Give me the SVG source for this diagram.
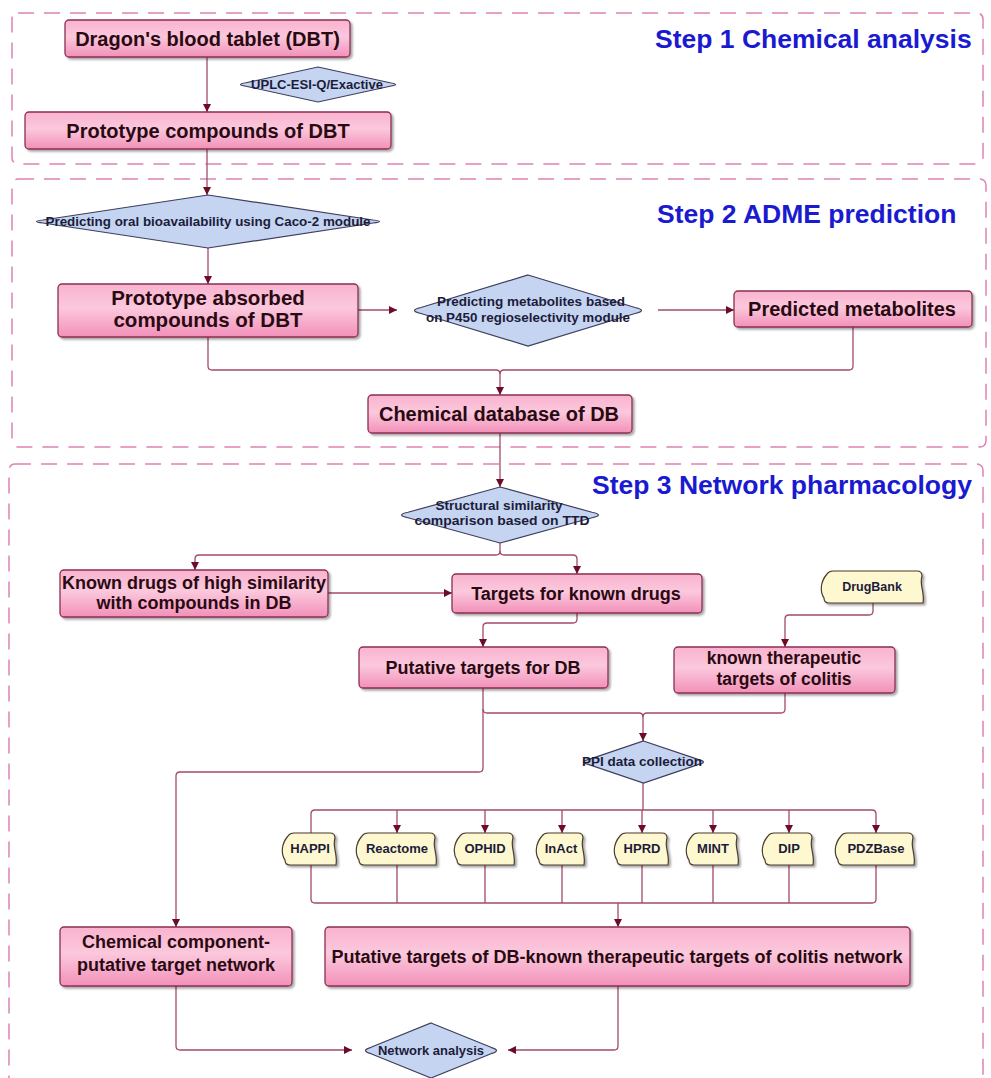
<svg xmlns="http://www.w3.org/2000/svg" width="991" height="1078" viewBox="0 0 991 1078">
<style>
.frame{fill:none;stroke:#de82b5;stroke-width:1.5;stroke-dasharray:16 10}
.box{fill:url(#pg);stroke:#8a2f52;stroke-width:1.3;filter:url(#sh)}
.dia{fill:#c4d4f1;stroke:#3d3d5c;stroke-width:1.2}
.tape{fill:#fdf8cf;stroke:#4a3b2e;stroke-width:1.2;filter:url(#sh)}
.t{font-family:"Liberation Sans",Arial,sans-serif;font-weight:bold;fill:#2a0a12;text-anchor:middle}
.s{font-family:"Liberation Sans",Arial,sans-serif;font-weight:bold;fill:#1c1c3a;text-anchor:middle}
.step{font-family:"Liberation Sans",Arial,sans-serif;font-weight:bold;font-size:26.5px;fill:#1a1ad0}
.c{fill:none;stroke:#a24a6c;stroke-width:1.3}
.a{marker-end:url(#arr)}
</style>
<defs>
<linearGradient id="pg" x1="0" y1="0" x2="0" y2="1">
<stop offset="0" stop-color="#f9b3cf"/>
<stop offset="0.45" stop-color="#fbc8dc"/>
<stop offset="1" stop-color="#f290b9"/>
</linearGradient>
<filter id="sh" x="-10%" y="-10%" width="120%" height="130%">
<feDropShadow dx="2" dy="2" stdDeviation="1.2" flood-color="#000" flood-opacity="0.35"/>
</filter>
<marker id="arr" viewBox="0 0 10 10" refX="10" refY="5" markerWidth="8" markerHeight="9" markerUnits="userSpaceOnUse" orient="auto">
<path d="M0,0 L10,5 L0,10 z" fill="#6e0b28"/>
</marker>
</defs>

<rect width="991" height="1078" fill="#fff"/>

<g id="frames">
<rect class="frame" x="12" y="13" width="971" height="151" rx="6"/>
<rect class="frame" x="12" y="179" width="974" height="268" rx="6"/>
<rect class="frame" x="9" y="464" width="974" height="660" rx="6"/>
<text class="step" x="655" y="48">Step 1 Chemical analysis</text>
<text class="step" x="657" y="223">Step 2 ADME prediction</text>
<text class="step" x="592" y="494">Step 3 Network pharmacology</text>
</g>

<g id="connectors">
<path class="c a" d="M207,57 V112"/>
<path class="c a" d="M207,149 V195"/>
<path class="c a" d="M208,248 V284"/>
<path class="c a" d="M358,310 H397"/>
<path class="c a" d="M658,310 H734"/>
<path class="c a" d="M208,337 V366 Q208,370 212,370 H496 Q500,370 500,374 V395"/>
<path class="c" d="M853,327 V366 Q853,370 849,370 H504 Q500,370 500,374"/>
<path class="c a" d="M500,433 V487"/>
<path class="c a" d="M500,543 V551 Q500,555 496,555 H199 Q195,555 195,559 V570"/>
<path class="c a" d="M500,551 Q500,555 504,555 H573 Q577,555 577,559 V574"/>
<path class="c a" d="M328,593 H452"/>
<path class="c a" d="M577,613 V619 Q577,623 573,623 H487 Q483,623 483,627 V647"/>
<path class="c a" d="M873,603 V611 Q873,615 869,615 H789 Q785,615 785,619 V647"/>
<path class="c a" d="M483,688 V709 Q483,713 487,713 H639 Q643,713 643,717 V741"/>
<path class="c" d="M785,693 V709 Q785,713 781,713 H647 Q643,713 643,717"/>
<path class="c a" d="M483,709 V768 Q483,772 479,772 H180 Q176,772 176,776 V927"/>
<path class="c" d="M643,783 V810"/>
<path class="c a" d="M311,833 V814 Q311,810 315,810 H872 Q876,810 876,814 V833"/>
<path class="c a" d="M397,810 V833"/>
<path class="c a" d="M485,810 V833"/>
<path class="c a" d="M562,810 V833"/>
<path class="c a" d="M642,810 V833"/>
<path class="c a" d="M713,810 V833"/>
<path class="c a" d="M789,810 V833"/>
<path class="c" d="M311,865 V899 Q311,903 315,903 H872 Q876,903 876,899 V865 M397,865 V903 M485,865 V903 M562,865 V903 M642,865 V903 M713,865 V903 M789,865 V903"/>
<path class="c a" d="M618,903 V927"/>
<path class="c a" d="M176,986 V1046 Q176,1050 180,1050 H352"/>
<path class="c a" d="M618,986 V1046 Q618,1050 614,1050 H508"/>
</g>

<g id="n-dbt">
<rect class="box" x="65" y="20" width="285" height="37" rx="4"/>
<text class="t" x="207.5" y="46" font-size="20">Dragon's blood tablet (DBT)</text>
</g>
<g id="n-uplc">
<path class="dia" d="M318,67 L390,82.75 Q401,84.5 390,86.25 L318,102 L246,86.25 Q235,84.5 246,82.75 Z"/>
<text class="s" x="317" y="89" font-size="12.5" textLength="132" lengthAdjust="spacingAndGlyphs">UPLC-ESI-Q/Exactive</text>
</g>
<g id="n-proto">
<rect class="box" x="25" y="112" width="366" height="37" rx="4"/>
<text class="t" x="208" y="137.5" font-size="20">Prototype compounds of DBT</text>
</g>
<g id="n-caco">
<path class="dia" d="M208,195 L373,220 Q386,221.5 373,223 L208,248 L43,223 Q30,221.5 43,220 Z"/>
<text class="s" x="208" y="226" font-size="13" textLength="325" lengthAdjust="spacingAndGlyphs">Predicting oral bioavailability using Caco-2 module</text>
</g>
<g id="n-absorbed">
<rect class="box" x="58" y="284" width="300" height="53" rx="4"/>
<text class="t" x="208" y="305" font-size="20.5">Prototype absorbed</text>
<text class="t" x="208" y="327" font-size="20.5">compounds of DBT</text>
</g>
<g id="n-p450">
<path class="dia" d="M528,275 L635,307.5 Q648,310.5 635,313.5 L528,346 L421,313.5 Q408,310.5 421,307.5 Z"/>
<text class="s" x="531" y="306" font-size="12.5" textLength="188" lengthAdjust="spacingAndGlyphs">Predicting metabolites based</text>
<text class="s" x="528" y="322" font-size="12.5" textLength="204" lengthAdjust="spacingAndGlyphs">on P450 regioselectivity module</text>
</g>
<g id="n-predicted">
<rect class="box" x="734" y="291" width="238" height="36" rx="4"/>
<text class="t" x="852" y="316" font-size="20">Predicted metabolites</text>
</g>
<g id="n-chemdb">
<rect class="box" x="368" y="395" width="264" height="38" rx="4"/>
<text class="t" x="499" y="421" font-size="20">Chemical database of DB</text>
</g>
<g id="n-struct">
<path class="dia" d="M500,487 L592,512.25 Q605,515 592,517.75 L500,543 L408,517.75 Q395,515 408,512.25 Z"/>
<text class="s" x="499" y="510" font-size="12.5" textLength="127" lengthAdjust="spacingAndGlyphs">Structural similarity</text>
<text class="s" x="502" y="525" font-size="12.5" textLength="175" lengthAdjust="spacingAndGlyphs">comparison based on TTD</text>
</g>
<g id="n-known">
<rect class="box" x="60" y="570" width="268" height="47" rx="4"/>
<text class="t" x="194" y="589" font-size="18">Known drugs of high similarity</text>
<text class="t" x="194" y="609" font-size="18">with compounds in DB</text>
</g>
<g id="n-targets">
<rect class="box" x="452" y="574" width="250" height="39" rx="4"/>
<text class="t" x="576" y="600" font-size="18">Targets for known drugs</text>
</g>
<g id="n-drugbank">
<path class="tape" d="M827,574 Q829,571 833,571 L917,571 Q922,571 922,576 C919,585 925,592 923,603 L829,603 Q824,603 824,598 C820,592 820,582 827,574 Z"/>
<text class="s" x="872" y="591" font-size="12.5" fill="#222">DrugBank</text>
</g>
<g id="n-putative">
<rect class="box" x="359" y="647" width="249" height="41" rx="4"/>
<text class="t" x="483" y="674" font-size="18">Putative targets for DB</text>
</g>
<g id="n-colitis">
<rect class="box" x="674" y="647" width="221" height="46" rx="4"/>
<text class="t" x="784" y="664" font-size="17.5">known therapeutic</text>
<text class="t" x="784" y="685" font-size="17.5">targets of colitis</text>
</g>
<g id="n-ppi">
<path class="dia" d="M643.5,741 L698,759.3 Q709,762 698,764.7 L643.5,783 L589,764.7 Q578,762 589,759.3 Z"/>
<text class="s" x="642" y="766" font-size="12.5" textLength="120" lengthAdjust="spacingAndGlyphs">PPI data collection</text>
</g>
<g id="n-happi">
<path class="tape" d="M288,836 Q290,833 294,833 L330,833 Q335,833 335,838 C332,847 338,854 336,865 L290,865 Q285,865 285,860 C281,854 281,844 288,836 Z"/>
<text class="s" x="310" y="853" font-size="13" fill="#222">HAPPI</text>
</g>
<g id="n-reactome">
<path class="tape" d="M362,836 Q364,833 368,833 L430,833 Q435,833 435,838 C432,847 438,854 436,865 L364,865 Q359,865 359,860 C355,854 355,844 362,836 Z"/>
<text class="s" x="397" y="853" font-size="13" fill="#222">Reactome</text>
</g>
<g id="n-ophid">
<path class="tape" d="M460,836 Q462,833 466,833 L508,833 Q513,833 513,838 C510,847 516,854 514,865 L462,865 Q457,865 457,860 C453,854 453,844 460,836 Z"/>
<text class="s" x="485" y="853" font-size="13" fill="#222">OPHID</text>
</g>
<g id="n-inact">
<path class="tape" d="M542,836 Q544,833 548,833 L578,833 Q583,833 583,838 C580,847 586,854 584,865 L544,865 Q539,865 539,860 C535,854 535,844 542,836 Z"/>
<text class="s" x="561" y="853" font-size="13" fill="#222">InAct</text>
</g>
<g id="n-hprd">
<path class="tape" d="M620,836 Q622,833 626,833 L662,833 Q667,833 667,838 C664,847 670,854 668,865 L622,865 Q617,865 617,860 C613,854 613,844 620,836 Z"/>
<text class="s" x="642" y="853" font-size="13" fill="#222">HPRD</text>
</g>
<g id="n-mint">
<path class="tape" d="M692,836 Q694,833 698,833 L732,833 Q737,833 737,838 C734,847 740,854 738,865 L694,865 Q689,865 689,860 C685,854 685,844 692,836 Z"/>
<text class="s" x="713" y="853" font-size="13" fill="#222">MINT</text>
</g>
<g id="n-dip">
<path class="tape" d="M768,836 Q770,833 774,833 L807,833 Q812,833 812,838 C809,847 815,854 813,865 L770,865 Q765,865 765,860 C761,854 761,844 768,836 Z"/>
<text class="s" x="789" y="853" font-size="13" fill="#222">DIP</text>
</g>
<g id="n-pdzbase">
<path class="tape" d="M841,836 Q843,833 847,833 L908,833 Q913,833 913,838 C910,847 916,854 914,865 L843,865 Q838,865 838,860 C834,854 834,844 841,836 Z"/>
<text class="s" x="876" y="853" font-size="13" fill="#222">PDZBase</text>
</g>
<g id="n-chemnet">
<rect class="box" x="60" y="927" width="232" height="59" rx="4"/>
<text class="t" x="176" y="948" font-size="18">Chemical component-</text>
<text class="t" x="176" y="971" font-size="18">putative target network</text>
</g>
<g id="n-bignet">
<rect class="box" x="325" y="927" width="585" height="59" rx="4"/>
<text class="t" x="617" y="963" font-size="18">Putative targets of DB-known therapeutic targets of colitis network</text>
</g>
<g id="n-netana">
<path class="dia" d="M431,1023 L491,1047.3 Q502,1050.5 491,1053.7 L431,1078 L371,1053.7 Q360,1050.5 371,1047.3 Z"/>
<text class="s" x="431" y="1055" font-size="13" textLength="106" lengthAdjust="spacingAndGlyphs">Network analysis</text>
</g>
</svg>
